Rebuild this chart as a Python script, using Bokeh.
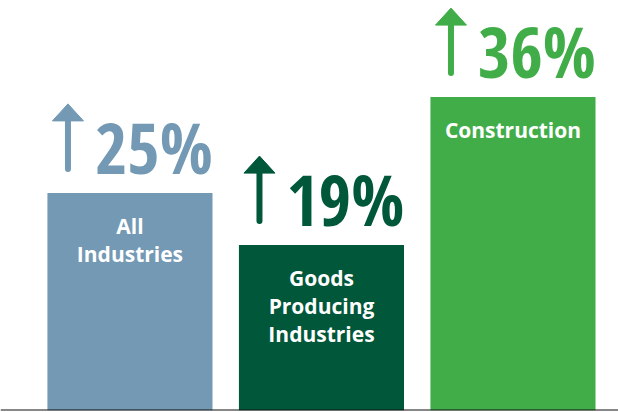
from bokeh.plotting import figure
from bokeh.models import ColumnDataSource, Span, Range1d
from bokeh.core.properties import value
from bokeh.embed import file_html
from bokeh.resources import INLINE

# ---- data ----
categories = ["All\nIndustries", "Goods\nProducing\nIndustries", "Construction"]
growth = [25, 19, 36]
growth_labels = ["25%", "19%", "36%"]
colors = ["#7399B4", "#00573A", "#41AD49"]

# ---- layout constants ----
W, H = 618, 412
BOTTOM_BORDER = 2
X0, X1 = -0.676, 2.551
Y0, Y1 = 0, 47.1
px_x = W / (X1 - X0)                    # pixels per x unit
px_y = (H - BOTTOM_BORDER) / (Y1 - Y0)  # pixels per y unit

xs = list(range(len(categories)))
src = ColumnDataSource(dict(x=xs, top=growth, lab=growth_labels, color=colors))

# one row per text line of the category labels
lx, ltop, ltext, loff = [], [], [], []
for i, c in enumerate(categories):
    for k, line in enumerate(c.split("\n")):
        lx.append(i); ltop.append(growth[i]); ltext.append(line); loff.append(19 + 28 * k)
lines_src = ColumnDataSource(dict(x=lx, y=ltop, text=ltext, yo=loff))

# arrows (derived from the bar tops, offsets in screen pixels converted to data units)
ax = [i - 62 / px_x for i in xs]
head_x = [[a - 15.5 / px_x, a, a + 15.5 / px_x] for a in ax]
head_y = [[t + 72 / px_y, t + 89 / px_y, t + 72 / px_y] for t in growth]
shaft_src = ColumnDataSource(dict(x=ax, y0=[t + 24 / px_y for t in growth],
                                  y1=[t + 74 / px_y for t in growth], color=colors))
head_src = ColumnDataSource(dict(xs=head_x, ys=head_y, color=colors))

p = figure(width=W, height=H, output_backend="svg", toolbar_location=None,
           x_range=Range1d(X0, X1), y_range=Range1d(Y0, Y1),
           x_axis_location=None, y_axis_location=None,
           min_border_left=0, min_border_right=0, min_border_top=0, min_border_bottom=BOTTOM_BORDER)
p.grid.visible = False
p.outline_line_color = None
p.background_fill_color = "white"
p.border_fill_color = "white"

p.vbar(x="x", top="top", bottom=0, width=0.862, fill_color="color", line_color=None, source=src)

p.add_layout(Span(location=0, dimension="width", line_color="#111111", line_width=2))

# category labels inside bars
p.text(x="x", y="y", text="text", source=lines_src, text_color="white",
       text_font=value("Open Sans"), text_font_style="bold", text_font_size="21px",
       text_align="center", text_baseline="top", y_offset="yo")

# growth numbers
p.text(x="x", y="top", text="lab", source=src, text_color="color",
       text_font=value("Open Sans Condensed"), text_font_style="bold", text_font_size="70px",
       text_align="left", text_baseline="alphabetic", x_offset=-35, y_offset=-46)

# arrows
p.segment(x0="x", y0="y0", x1="x", y1="y1", source=shaft_src, line_color="color",
          line_width=6, line_cap="round")
p.patches(xs="xs", ys="ys", source=head_src, fill_color="color", line_color="color", line_width=1)

open("out.html", "w").write(file_html(p, INLINE))
